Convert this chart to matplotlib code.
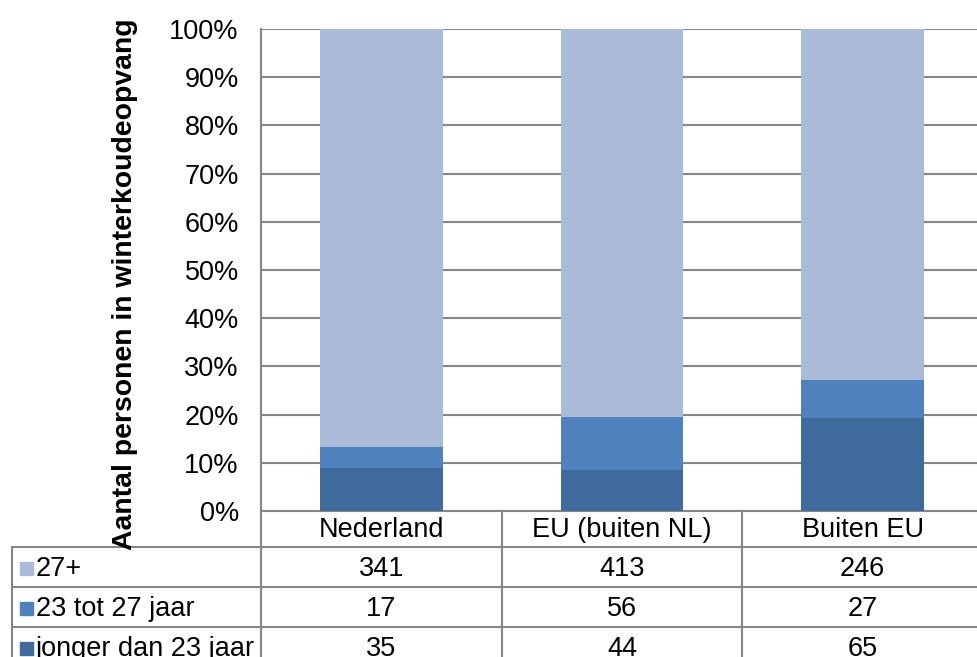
import matplotlib
matplotlib.use("Agg")
import matplotlib.pyplot as plt
from matplotlib.patches import Rectangle

categories = ["Nederland", "EU (buiten NL)", "Buiten EU"]
series_names = ["27+", "23 tot 27 jaar", "jonger dan 23 jaar"]
v_27plus = [341, 413, 246]
v_23tot27 = [17, 56, 27]
v_jonger23 = [35, 44, 65]
y_ticks = [0, 10, 20, 30, 40, 50, 60, 70, 80, 90, 100]
y_label = "Aantal personen in winterkoudeopvang"

colors = {"27+": "#AABAD7", "23 tot 27 jaar": "#4F81BD", "jonger dan 23 jaar": "#3F6A9C"}
grid_col = "#868686"
FS = 19.5
plt.rcParams['font.family'] = ['Liberation Sans', 'DejaVu Sans']

W, H = 978, 657
fig = plt.figure(figsize=(W / 100, H / 100), dpi=100)
L, R, T, B = 261, 983, 29, 511
ax = fig.add_axes([L / W, 1 - B / H, (R - L) / W, (B - T) / H])

totals = [a + b + c for a, b, c in zip(v_27plus, v_23tot27, v_jonger23)]
p_j = [100 * v / t for v, t in zip(v_jonger23, totals)]
p_m = [100 * v / t for v, t in zip(v_23tot27, totals)]
p_o = [100 * v / t for v, t in zip(v_27plus, totals)]
x = list(range(len(categories)))
bw = 0.51
ax.bar(x, p_j, bw, color=colors["jonger dan 23 jaar"], zorder=3)
ax.bar(x, p_m, bw, bottom=p_j, color=colors["23 tot 27 jaar"], zorder=3)
ax.bar(x, p_o, bw, bottom=[a + b for a, b in zip(p_j, p_m)], color=colors["27+"], zorder=3)

ax.set_xlim(-0.5, len(categories) - 0.5)
ax.set_ylim(0, 100)
ax.set_yticks(y_ticks)
ax.set_yticklabels([f"{t}%" for t in y_ticks], fontsize=FS)
ax.set_xticks([])
ax.tick_params(axis='y', length=0, pad=16)
ax.grid(axis='y', color=grid_col, linewidth=1.5, zorder=0)
for s in ["top", "right"]:
    ax.spines[s].set_visible(False)
for s in ["left", "bottom"]:
    ax.spines[s].set_color(grid_col)
    ax.spines[s].set_linewidth(1.5)

fig.text(125 / W, 1 - 284 / H, y_label, rotation=90, fontsize=20.4, fontweight='bold',
         ha='center', va='center')

# table overlay in pixel coordinates
ov = fig.add_axes([0, 0, 1, 1])
ov.set_xlim(0, W)
ov.set_ylim(H, 0)
ov.axis('off')
cw = (R - L) / len(categories)
col_edges = [L + cw * i for i in range(len(categories) + 1)]
row_edges = [B, 547, 587, 627, 667]
tl = dict(color=grid_col, linewidth=1.5)
for xe in col_edges:
    ov.plot([xe, xe], [B, row_edges[-1]], **tl)
ov.plot([12, 12], [row_edges[1], row_edges[-1]], **tl)
for ye in row_edges[1:-1]:
    ov.plot([12, R], [ye, ye], **tl)
for i, c in enumerate(categories):
    ov.text(L + cw * (i + 0.5), (row_edges[0] + row_edges[1]) / 2 + 1, c, fontsize=FS,
            ha='center', va='center')
rows = [v_27plus, v_23tot27, v_jonger23]
for r, (name, vals) in enumerate(zip(series_names, rows)):
    yc = (row_edges[r + 1] + row_edges[r + 2]) / 2 + 1.5
    ov.add_patch(Rectangle((20, yc - 7), 13, 13, color=colors[name]))
    ov.text(36, yc, name, fontsize=FS, ha='left', va='center')
    for i, v in enumerate(vals):
        ov.text(L + cw * (i + 0.5), yc, str(v), fontsize=FS, ha='center', va='center')

fig.savefig("out.png", dpi=100)
